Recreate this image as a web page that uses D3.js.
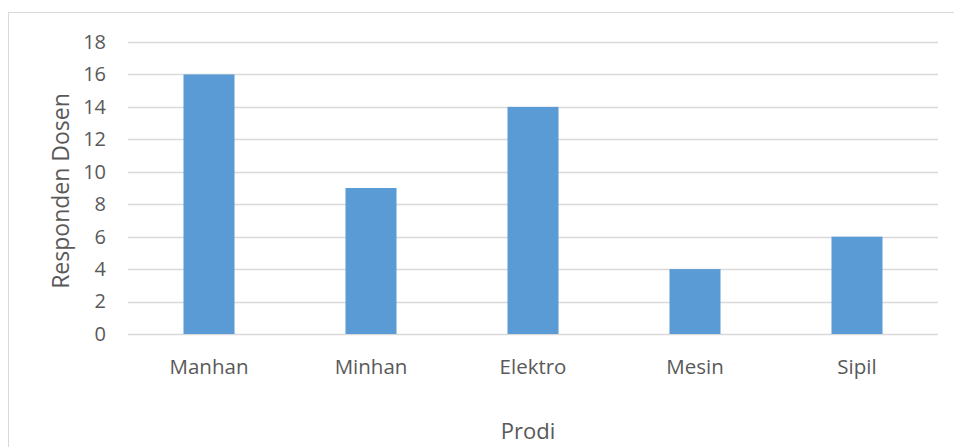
<!DOCTYPE html>
<html>
<head>
<meta charset="utf-8">
<script src="https://cdn.jsdelivr.net/npm/d3@7/dist/d3.min.js"></script>
<style>
  body { margin: 0; background: #fff; }
  svg text { font-family: 'Open Sans', sans-serif; fill: #595959; }
</style>
</head>
<body>
<svg id="chart" width="954" height="447"></svg>
<script>
const categories = ['Manhan', 'Minhan', 'Elektro', 'Mesin', 'Sipil']
const values = [16, 9, 14, 4, 6]
const yTicks = [0, 2, 4, 6, 8, 10, 12, 14, 16, 18]

let svg = d3.select('#chart')

// chart frame
svg.append('rect')
  .attr('x', 8.5).attr('y', 12.5)
  .attr('width', 960).attr('height', 460)
  .attr('fill', 'none')
  .attr('stroke', '#d9d9d9')

let margin = {top: 42, left: 128, right: 16, bottom: 113}
let width = 954 - margin.left - margin.right
let height = 447 - margin.top - margin.bottom

let g = svg.append('g')
  .attr('transform', 'translate(' + margin.left + ',' + margin.top + ')')

let x = d3.scaleBand()
  .domain(categories)
  .range([0, width])
  .paddingInner(0.685)
  .paddingOuter(0.3425)

let y = d3.scaleLinear()
  .domain([0, 18])
  .range([height, 0])

// grid
g.selectAll('.grid')
  .data(yTicks)
  .enter()
  .append('line')
  .attr('x1', 0).attr('x2', width)
  .attr('y1', d => Math.round(y(d)) + 0.5)
  .attr('y2', d => Math.round(y(d)) + 0.5)
  .attr('stroke', '#d9d9d9')
  .attr('stroke-width', 1.3)

// bars
g.selectAll('.bar')
  .data(values)
  .enter()
  .append('rect')
  .attr('x', (d, i) => x(categories[i]))
  .attr('y', d => y(d))
  .attr('width', x.bandwidth())
  .attr('height', d => height - y(d))
  .attr('fill', '#5b9bd5')

// y axis labels
let yAxis = d3.axisLeft(y).tickValues(yTicks).tickSize(0).tickPadding(22)
let gY = g.append('g').call(yAxis)
gY.select('.domain').remove()
gY.selectAll('text')
  .style('font-size', '20px')
  .attr('fill', null)

// x axis labels
let xAxis = d3.axisBottom(x).tickSize(0).tickPadding(25)
let gX = g.append('g')
  .attr('transform', 'translate(0,' + height + ')')
  .call(xAxis)
gX.select('.domain').remove()
gX.selectAll('text')
  .style('font-size', '20.5px')
  .attr('fill', null)

// axis titles
svg.append('text')
  .attr('x', margin.left + width / 2 - 5)
  .attr('y', 439)
  .attr('text-anchor', 'middle')
  .style('font-size', '22px')
  .text('Prodi')

svg.append('text')
  .attr('transform', 'translate(69,191) rotate(-90)')
  .attr('text-anchor', 'middle')
  .style('font-size', '23px')
  .text('Responden Dosen')
</script>
</body>
</html>
